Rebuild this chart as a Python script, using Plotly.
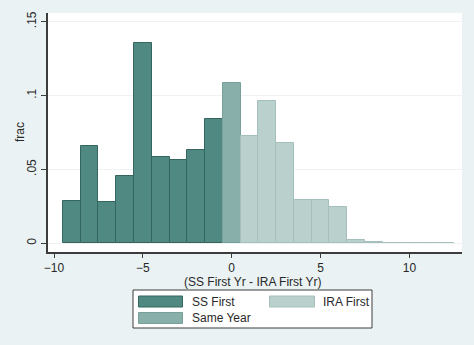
import plotly.graph_objects as go

# Data
ss_x = [-9, -8, -7, -6, -5, -4, -3, -2, -1]
ss_y = [0.0286, 0.066, 0.028, 0.0457, 0.1353, 0.0586, 0.0564, 0.0631, 0.0839]
same_x = [0]
same_y = [0.1087]
ira_x = [1, 2, 3, 4, 5, 6, 7, 8, 9, 10, 11, 12]
ira_y = [0.0728, 0.0965, 0.0681, 0.0293, 0.0293, 0.0248, 0.0023, 0.0009, 0.0003, 0.0003, 0.0003, 0.0003]
legend_labels = ["SS First", "IRA First", "Same Year"]
x_ticks = [-10, -5, 0, 5, 10]
y_ticks = [0, 0.05, 0.1, 0.15]
y_tick_text = ["0", ".05", ".1", ".15"]

c_ss = "rgb(79,137,129)"
c_ss_line = "rgb(52,102,95)"
c_same = "rgb(137,175,170)"
c_same_line = "rgb(120,160,155)"
c_ira = "rgb(186,208,205)"
c_ira_line = "rgb(165,192,188)"
bg = "rgb(234,242,243)"
font = "Liberation Sans, Arial, sans-serif"

W, H = 474, 345
L, R, T, B = 48, 12, 13, 93
pw, ph = W - L - R, H - T - B

def px(x):
    return (x - L) / pw

def py(y):
    return (H - B - y) / ph

fig = go.Figure()
fig.add_bar(x=ss_x, y=ss_y, width=1, marker=dict(color=c_ss, line=dict(color=c_ss_line, width=1)), name="SS First")
fig.add_bar(x=same_x, y=same_y, width=1, marker=dict(color=c_same, line=dict(color=c_same_line, width=1)), name="Same Year")
fig.add_bar(x=ira_x, y=ira_y, width=1, marker=dict(color=c_ira, line=dict(color=c_ira_line, width=1)), name="IRA First")

shapes = [
    # legend box
    dict(type="rect", xref="paper", yref="paper", x0=px(133), x1=px(372), y0=py(290), y1=py(328),
         fillcolor="white", line=dict(color="rgb(60,60,60)", width=1), layer="above"),
    dict(type="rect", xref="paper", yref="paper", x0=px(138.5), x1=px(182.5), y0=py(296), y1=py(307),
         fillcolor=c_ss, line=dict(color=c_ss_line, width=1)),
    dict(type="rect", xref="paper", yref="paper", x0=px(269.5), x1=px(314.5), y0=py(296), y1=py(307),
         fillcolor=c_ira, line=dict(color=c_ira_line, width=1)),
    dict(type="rect", xref="paper", yref="paper", x0=px(138.5), x1=px(182.5), y0=py(312.5), y1=py(323.5),
         fillcolor=c_same, line=dict(color=c_same_line, width=1)),
]

tc = "rgb(40,40,40)"
annotations = [
    dict(text=legend_labels[0], xref="paper", yref="paper", x=px(190), y=py(301.5), xanchor="left", yanchor="middle", showarrow=False, font=dict(size=12, color=tc, family=font)),
    dict(text=legend_labels[1], xref="paper", yref="paper", x=px(321), y=py(301.5), xanchor="left", yanchor="middle", showarrow=False, font=dict(size=12, color=tc, family=font)),
    dict(text=legend_labels[2], xref="paper", yref="paper", x=px(190), y=py(318), xanchor="left", yanchor="middle", showarrow=False, font=dict(size=12, color=tc, family=font)),
    dict(text="(SS First Yr - IRA First Yr)", xref="paper", yref="paper", x=px(253), y=py(282), xanchor="center", yanchor="middle", showarrow=False, font=dict(size=12, color=tc, family=font)),
    dict(text="frac", xref="paper", yref="paper", x=px(20), y=py(132), xanchor="center", yanchor="middle", textangle=-90, showarrow=False, font=dict(size=12, color=tc, family=font)),
]

upp_x = 17.77
upp_y = 1478.0
xmin = -10 - 6 / upp_x
ymin = -(252 - 243.3) / upp_y

fig.update_layout(
    width=W, height=H,
    margin=dict(l=L, r=R, t=T, b=B),
    paper_bgcolor=bg, plot_bgcolor="white",
    barmode="overlay", bargap=0,
    showlegend=False,
    shapes=shapes, annotations=annotations,
    font=dict(family=font, size=12, color=tc),
    xaxis=dict(range=[xmin, xmin + pw / upp_x], tickvals=x_ticks, ticks="outside", ticklen=4, tickcolor="rgb(60,60,60)",
               showline=True, linecolor="rgb(60,60,60)", linewidth=1.5, showgrid=False, zeroline=False,
               tickfont=dict(size=12, color=tc)),
    yaxis=dict(range=[ymin, ymin + ph / upp_y], tickvals=y_ticks, ticktext=y_tick_text, tickangle=-90,
               ticks="outside", ticklen=5, tickcolor="rgb(60,60,60)",
               showline=True, linecolor="rgb(60,60,60)", linewidth=1.5, showgrid=True, gridcolor="rgb(238,242,242)",
               zeroline=False, tickfont=dict(size=12, color=tc)),
)

fig.write_html("out.html")
